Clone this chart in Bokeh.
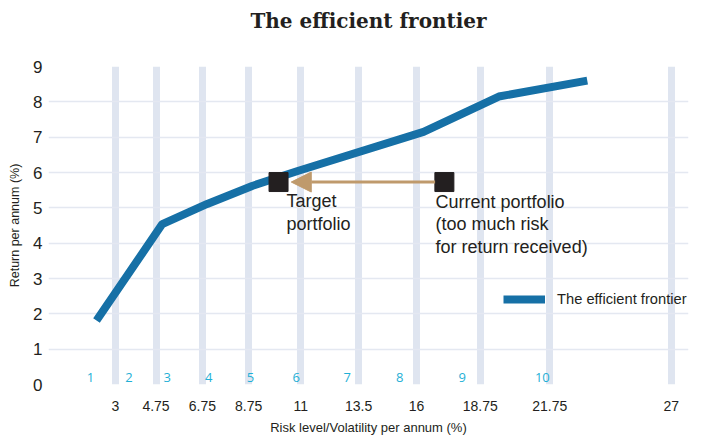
from bokeh.plotting import figure
from bokeh.models import FixedTicker, Range1d, Arrow, NormalHead, Legend, Title
from bokeh.core.properties import value
from bokeh.embed import file_html
from bokeh.resources import INLINE

# Data
frontier_risk = [2.18, 5.02, 6.96, 8.9, 10.9, 16.3, 19.55, 23.37]
frontier_return = [1.81, 4.54, 5.11, 5.62, 6.05, 7.15, 8.15, 8.6]

x_ticks = [3, 4.75, 6.75, 8.75, 11, 13.5, 16, 18.75, 21.75, 27]
x_tick_labels = ["3", "4.75", "6.75", "8.75", "11", "13.5", "16", "18.75", "21.75", "27"]
y_ticks = [0, 1, 2, 3, 4, 5, 6, 7, 8, 9]

risk_levels = ["1", "2", "3", "4", "5", "6", "7", "8", "9", "10"]
risk_level_x = [1.92, 3.58, 5.23, 7.03, 8.83, 10.8, 13.0, 15.27, 17.97, 21.43]

target_x, target_y = [10.04], [5.73]
current_x, current_y = [17.2], [5.73]

TITLE = "The efficient frontier"
FONT = "Liberation Sans"

p = figure(width=702, height=439,
           min_border_left=48, min_border_right=14, min_border_top=66, min_border_bottom=55,
           output_backend="svg", toolbar_location=None,
           x_range=Range1d(0.108, 27.74), y_range=Range1d(0, 9))
p.outline_line_color = None
p.background_fill_color = "white"

# spacer between frame and title, then the title itself
p.add_layout(Title(text=" ", text_font_size="20px", standoff=10), "above")
p.add_layout(Title(text=TITLE, align="center", text_font="DejaVu Serif", text_font_size="20px",
                   text_font_style="bold", text_color="#231f20", standoff=0), "above")

# grids
p.xgrid.ticker = FixedTicker(ticks=x_ticks)
p.xgrid.grid_line_color = "#dfe5f0"
p.xgrid.grid_line_width = 7
p.ygrid.ticker = FixedTicker(ticks=y_ticks)
p.ygrid.grid_line_color = "#e4e8f1"
p.ygrid.grid_line_width = 1.5

# axes
p.xaxis.ticker = FixedTicker(ticks=x_ticks)
p.xaxis.major_label_overrides = {t: l for t, l in zip(x_ticks, x_tick_labels)}
p.yaxis.ticker = FixedTicker(ticks=y_ticks)
for ax in (p.xaxis[0], p.yaxis[0]):
    ax.axis_line_color = None
    ax.major_tick_line_color = None
    ax.minor_tick_line_color = None
    ax.major_tick_out = 0
    ax.major_label_text_font = FONT
    ax.major_label_text_color = "#231f20"
    ax.axis_label_text_font = FONT
    ax.axis_label_text_font_style = "normal"
    ax.axis_label_text_color = "#231f20"
p.xaxis.major_label_text_font_size = "14px"
p.xaxis.major_label_standoff = 16
p.xaxis.axis_label = "Risk level/Volatility per annum (%)"
p.xaxis.axis_label_text_font_size = "13px"
p.xaxis.axis_label_standoff = 6
p.yaxis.major_label_text_font_size = "17px"
p.yaxis.major_label_standoff = 6
p.yaxis.axis_label = "Return per annum (%)"
p.yaxis.axis_label_text_font_size = "12.5px"
p.yaxis.axis_label_standoff = 8

# risk level numbers
p.text(x=risk_level_x, y=[0.2] * len(risk_level_x), text=risk_levels,
       text_font=value("Open Sans"), text_font_size="13px", text_color="#1fb0d6",
       text_align="center", text_baseline="middle")

# frontier
r = p.line(frontier_risk, frontier_return, line_color="#1670a6", line_width=8)

# arrow
p.add_layout(Arrow(end=NormalHead(size=20, fill_color="#bf9a6c", line_color="#bf9a6c"),
                   x_start=current_x[0] - 0.4, y_start=current_y[0],
                   x_end=target_x[0] + 0.55, y_end=target_y[0],
                   line_color="#bf9a6c", line_width=3))

# markers
p.scatter(target_x, target_y, marker="square", size=19, fill_color="#231f20", line_color="#231f20")
p.scatter(current_x, current_y, marker="square", size=19, fill_color="#231f20", line_color="#231f20")

p.text(x=[10.38], y=[5.48], text=["Target\nportfolio"],
       text_font=value(FONT), text_font_size="18px", text_color="#231f20",
       text_align="left", text_baseline="top", text_line_height=1.15)
p.text(x=[16.82], y=[5.45], text=["Current portfolio\n(too much risk\nfor return received)"],
       text_font=value(FONT), text_font_size="18px", text_color="#231f20",
       text_align="left", text_baseline="top", text_line_height=1.12)

legend = Legend(items=[("The efficient frontier", [r])], location=(455, 75))
legend.padding = 0
legend.margin = 0
legend.border_line_alpha = 0
legend.background_fill_alpha = 0
legend.glyph_width = 42
legend.glyph_height = 20
legend.label_height = 20
legend.label_standoff = 12
legend.label_text_font = FONT
legend.label_text_font_size = "14.7px"
legend.label_text_color = "#231f20"
p.add_layout(legend)

open("out.html", "w").write(file_html(p, INLINE))
